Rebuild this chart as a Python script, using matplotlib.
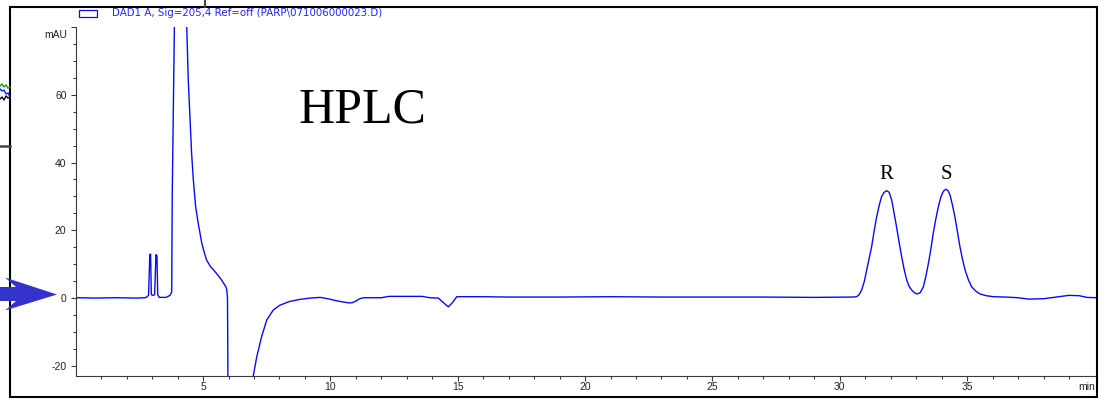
import numpy as np
import matplotlib
matplotlib.use("Agg")
import matplotlib.pyplot as plt
from matplotlib.patches import Rectangle, Polygon
from matplotlib.lines import Line2D
from matplotlib.ticker import FixedLocator

# ---- chromatogram (time in min, signal in mAU) ----
time_min = [
    0.00, 0.80, 1.60, 2.40, 2.75, 2.86, 2.91, 2.94, 2.97, 3.04, 3.10, 3.15, 3.19, 3.22,
    3.28, 3.55, 3.70, 3.77, 3.79, 3.84, 3.90, 4.10, 4.33, 4.36, 4.42, 4.49, 4.55, 4.62,
    4.71, 4.81, 4.95, 5.05, 5.14, 5.30, 5.47, 5.60, 5.73, 5.90, 5.93, 5.96, 5.98, 6.02,
    6.50, 6.88, 6.97,
    7.11, 7.30, 7.50, 7.76, 8.02, 8.40, 8.80, 9.20, 9.60, 9.90, 10.30, 10.70, 10.85,
    11.00, 11.15, 11.30, 12.00, 12.30, 13.60, 13.90, 14.24, 14.43, 14.63, 14.80, 14.96,
    15.20, 16.00, 17.00, 19.00, 21.00, 23.00, 25.00, 27.00, 29.00, 30.30, 30.50, 30.66,
    30.76, 30.86, 30.96, 31.06, 31.15, 31.25, 31.35, 31.45, 31.55, 31.64, 31.74, 31.84,
    31.94, 32.04, 32.13, 32.23, 32.33, 32.43, 32.53, 32.63, 32.72, 32.82, 32.93, 33.04,
    33.16, 33.28, 33.38, 33.48, 33.58, 33.67, 33.77, 33.87, 33.96, 34.04, 34.10, 34.17,
    34.25, 34.33, 34.42, 34.52, 34.62, 34.72, 34.82, 34.92, 35.05, 35.18, 35.35, 35.51,
    35.75, 36.03, 36.50, 37.00, 37.40, 38.00, 38.50, 39.00, 39.40, 39.70, 40.10,
]
signal_mau = [
    0.1, 0.0, 0.1, 0.0, 0.1, 0.8, 12.8, 13.0, 1.0, 0.8, 1.0, 12.8, 12.5, 1.0,
    0.2, 0.2, 0.8, 1.8, 30.0, 60.0, 95.0, 400.0, 95.0, 80.0, 64.3, 52.5, 42.8, 34.8,
    26.9, 22.1, 16.2, 13.4, 11.2, 9.2, 7.8, 6.6, 5.3, 3.3, 2.5, 0.0, -30.0, -45.0,
    -70.0, -28.0, -23.0,
    -17.3, -11.4, -6.5, -3.5, -2.1, -1.0, -0.4, 0.0, 0.2, -0.2, -0.9, -1.4, -1.4,
    -0.9, -0.2, 0.1, 0.1, 0.5, 0.5, 0.1, 0.0, -1.3, -2.6, -1.3, 0.4,
    0.4, 0.4, 0.3, 0.3, 0.4, 0.3, 0.3, 0.3, 0.2, 0.3, 0.3, 0.4,
    1.0, 2.4, 4.8, 8.3, 11.5, 15.1, 19.8, 24.0, 27.4, 29.9, 31.2, 31.7,
    31.2, 28.9, 25.2, 21.0, 16.5, 12.2, 8.4, 5.3, 3.5, 2.4, 1.6, 1.2,
    1.6, 3.3, 6.4, 10.2, 14.6, 19.1, 23.3, 26.9, 29.6, 31.1, 31.8, 32.1,
    31.7, 30.4, 27.6, 24.0, 19.5, 15.1, 11.4, 8.3, 5.4, 3.3, 2.0, 1.2,
    0.7, 0.4, 0.3, 0.1, -0.3, -0.2, 0.3, 0.8, 0.7, 0.2, 0.1,
]

x_major = [5, 10, 15, 20, 25, 30, 35]
y_major = [-20, 0, 20, 40, 60, 80]
y_labels = ["-20", "0", "20", "40", "60", ""]
legend_text = "DAD1 A, Sig=205,4 Ref=off (PARP\\071006000023.D)"
peak_names = ["R", "S"]
peak_times = [31.84, 34.20]

W, H = 1099, 401
trace_col = "#0a0af0"
arrow_col = "#3333cc"
axis_col = "#3a3a3a"


def fx(px):
    return px / W


def fy(py):
    return 1 - py / H


fig = plt.figure(figsize=(W / 100, H / 100), dpi=100)
ax = fig.add_axes([fx(75.7), fy(376), fx(1097) - fx(75.7), fy(27) - fy(376)])

ax.plot(time_min, signal_mau, color=trace_col, lw=1.0)
ax.set_xlim(0, 40.1)
ax.set_ylim(-23, 80)

for s in ["top", "right"]:
    ax.spines[s].set_visible(False)
for s in ["left", "bottom"]:
    ax.spines[s].set_color(axis_col)
    ax.spines[s].set_linewidth(0.8)

ax.xaxis.set_major_locator(FixedLocator(x_major))
ax.xaxis.set_minor_locator(FixedLocator([m for m in range(1, 40) if m % 5]))
ax.yaxis.set_major_locator(FixedLocator(y_major))
ax.yaxis.set_minor_locator(FixedLocator([v for v in range(-20, 81, 5) if v % 20]))
ax.set_yticklabels(y_labels)

tick_font = dict(family="Liberation Sans", size=7.5)
ax.tick_params(axis="both", which="major", direction="out", length=3.6, width=0.8,
               color=axis_col, labelcolor="#222222", labelsize=7.5)
ax.tick_params(axis="both", which="minor", direction="out", length=2.2, width=0.8,
               color=axis_col)
ax.tick_params(axis="x", pad=1.0)
ax.tick_params(axis="y", pad=3.0)
for lab in ax.get_xticklabels() + ax.get_yticklabels():
    lab.set_family("Liberation Sans")

fig.text(fx(67), fy(35), "mAU", ha="right", va="center", color="#222222", **tick_font)
fig.text(fx(1078), fy(387), "min", ha="left", va="center", color="#222222", **tick_font)

# annotations
ax.text(11.24, 55.5, "HPLC", family="Liberation Serif", fontsize=36,
        ha="center", va="center", color="black")
for name, t in zip(peak_names, peak_times):
    ax.text(t, 36.5, name, family="Liberation Serif", fontsize=15,
            ha="center", va="center", color="black")

# legend line on top
fig.patches.append(Rectangle((fx(78.5), fy(16.7)), fx(97) - fx(78.5), fy(10) - fy(16.7),
                             transform=fig.transFigure, fill=False, ec=trace_col, lw=0.9))
fig.text(fx(111.5), fy(13.3), legend_text, ha="left", va="center", color="#2424ff",
         family="DejaVu Sans", fontsize=7.4)

# outer frame of the screenshot
fig.patches.append(Rectangle((fx(10), fy(397)), fx(1097) - fx(10), fy(7) - fy(397),
                             transform=fig.transFigure, fill=False, ec="black", lw=1.5))
fig.lines.append(Line2D([fx(205), fx(205)], [fy(0), fy(7)], transform=fig.transFigure,
                        color="#444444", lw=1.5))
fig.lines.append(Line2D([fx(0), fx(10)], [fy(145.5), fy(145.5)], transform=fig.transFigure,
                        color="#444444", lw=1.8))

# bits of the neighbouring window on the left edge
edge_x = [0, 2, 4, 6, 8, 10]
edge_green = [86, 84, 87, 85, 88, 87]
edge_blue = [89, 91, 90, 94, 93, 97]
edge_black = [99, 97, 100, 96, 98, 97]
for ys, c in [(edge_green, "#1a9a1a"), (edge_blue, "#1a1aff"), (edge_black, "black")]:
    fig.lines.append(Line2D([fx(v) for v in edge_x], [fy(v) for v in ys],
                            transform=fig.transFigure, color=c, lw=1.0))

# blue arrow pointing at the zero line
arrow_px = [(0, 287), (16, 287), (5, 277.5), (57, 294.5), (5, 310.5), (16, 301), (0, 301)]
fig.patches.append(Polygon([(fx(a), fy(b)) for a, b in arrow_px], closed=True,
                           transform=fig.transFigure, fc=arrow_col, ec="none", zorder=5))

fig.savefig("out.png", dpi=100)
